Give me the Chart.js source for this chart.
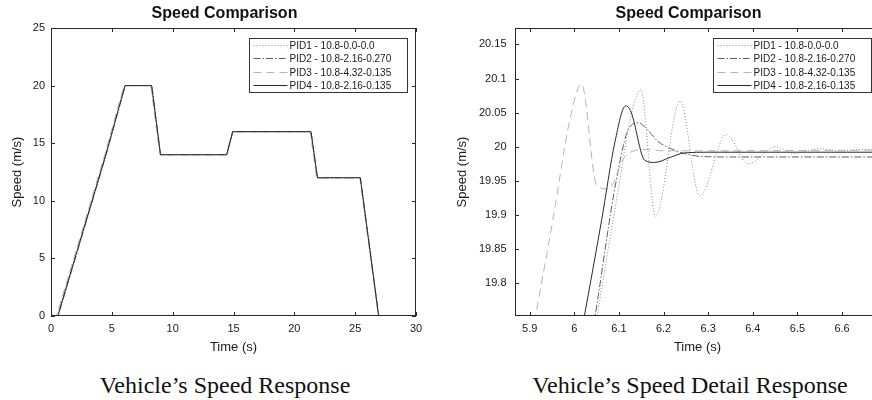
<!DOCTYPE html>
<html>
<head>
<meta charset="utf-8">
<script src="https://cdn.jsdelivr.net/npm/chart.js@4"></script>
<style>
  html, body { margin: 0; padding: 0; background: #fff; overflow: hidden; }
  body { width: 872px; height: 400px; position: relative; }
  canvas { position: absolute; top: 0; }
  #speed { left: 0; }
  #detail { left: 436px; }
  .caption {
    position: absolute; top: 373px; width: 400px; text-align: center;
    font-family: 'Liberation Serif', serif; font-size: 24px; line-height: 24px; color: #111;
  }
</style>
</head>
<body>
<canvas id="speed" width="436" height="360"></canvas>
<canvas id="detail" width="444" height="360"></canvas>
<div class="caption" style="left:25px">Vehicle’s Speed Response</div>
<div class="caption" style="left:490px">Vehicle’s Speed Detail Response</div>

<script>
// legend labels
const seriesNames = ['PID1 - 10.8-0.0-0.0', 'PID2 - 10.8-2.16-0.270', 'PID3 - 10.8-4.32-0.135', 'PID4 - 10.8-2.16-0.135'];

// whole run (left plot)
const runTime1 = [0, 0.6, 4.55, 6.12, 8.3, 9.02, 14.47, 14.96, 21.38, 21.9, 25.45, 26.95, 29];
const runSpeed1 = [0, 0, 14, 20, 20, 14, 14, 16, 16, 12, 12, 0, 0];
const runTime2 = [0, 0.58, 4.53, 6.1, 8.28, 9.0, 14.45, 14.95, 21.37, 21.9, 25.43, 26.94, 29];
const runSpeed2 = [0, 0, 14, 20, 20, 14, 14, 16, 16, 12, 12, 0, 0];
const runTime3 = [0, 0.45, 4.42, 6.0, 8.2, 8.95, 14.4, 14.9, 21.3, 21.83, 25.38, 26.9, 29];
const runSpeed3 = [0, 0, 14, 20, 20, 14, 14, 16, 16, 12, 12, 0, 0];
const runTime4 = [0, 0.55, 4.5, 6.08, 8.27, 9.0, 14.44, 14.93, 21.37, 21.9, 25.42, 26.93, 29];
const runSpeed4 = [0, 0, 14, 20, 20, 14, 14, 16, 16, 12, 12, 0, 0];

// detail around 6 s (right plot)
const detTime1 = [6.03, 6.102, 6.125, 6.149, 6.182, 6.237, 6.281, 6.341, 6.389, 6.452, 6.49, 6.549, 6.6, 6.65, 6.7];
const detSpeed1 = [19.67, 19.951, 20.04, 20.084, 19.898, 20.067, 19.928, 20.018, 19.975, 20.0, 19.99, 19.997, 19.994, 19.996, 19.995];
const detTime2 = [6.02, 6.046, 6.094, 6.124, 6.144, 6.165, 6.187, 6.217, 6.247, 6.28, 6.35, 6.7];
const detSpeed2 = [19.65, 19.75, 19.951, 20.029, 20.035, 20.024, 20.008, 19.997, 19.99, 19.986, 19.985, 19.985];
const detTime3 = [5.88, 5.913, 5.953, 5.99, 6.016, 6.05, 6.076, 6.113, 6.158, 6.2, 6.7];
const detSpeed3 = [19.63, 19.752, 19.897, 20.04, 20.092, 19.944, 19.938, 19.985, 19.996, 19.994, 19.995];
const detTime4 = [6.0, 6.022, 6.061, 6.091, 6.115, 6.127, 6.158, 6.18, 6.217, 6.247, 6.3, 6.7];
const detSpeed4 = [19.67, 19.75, 19.892, 20.007, 20.06, 20.051, 19.98, 19.977, 19.985, 19.991, 19.992, 19.992];

const lineColors = ['#8c8c8c', '#606060', '#b5b5b5', '#2a2a2a'];
const lineDashes = [[1, 2], [7, 2, 1.5, 2], [8, 5], []];

Chart.defaults.font.family = "'Liberation Sans', Arial, sans-serif";
Chart.defaults.color = '#1a1a1a';

function pts(t, v) {
  return t.map((x, i) => ({ x: x, y: v[i] }));
}

function makeSets(times, speeds, smooth) {
  return times.map((t, i) => ({
    label: seriesNames[i],
    data: pts(t, speeds[i]),
    borderColor: lineColors[i],
    borderDash: lineDashes[i],
    borderWidth: 1,
    pointRadius: 0,
    fill: false,
    cubicInterpolationMode: smooth ? 'monotone' : 'default',
    tension: 0,
    order: 3 - i
  }));
}

function fmt(v) {
  return String(Number(v.toFixed(2)));
}

// frame, inward ticks, title and boxed legend
const framePlugin = {
  id: 'frame',
  afterDraw(chart, args, opts) {
    const { ctx, chartArea: a, scales } = chart;
    const x = scales.x, y = scales.y;
    ctx.save();
    ctx.strokeStyle = '#2a2a2a';
    ctx.lineWidth = 1;
    ctx.setLineDash([]);
    ctx.strokeRect(Math.round(a.left) + 0.5, Math.round(a.top) + 0.5,
      Math.round(a.right - a.left) - 1, Math.round(a.bottom - a.top) - 1);
    ctx.beginPath();
    x.ticks.forEach(t => {
      const px = Math.round(x.getPixelForValue(t.value)) + 0.5;
      ctx.moveTo(px, a.bottom); ctx.lineTo(px, a.bottom - 4);
      ctx.moveTo(px, a.top); ctx.lineTo(px, a.top + 4);
    });
    y.ticks.forEach(t => {
      const py = Math.round(y.getPixelForValue(t.value)) + 0.5;
      ctx.moveTo(a.left, py); ctx.lineTo(a.left + 4, py);
      ctx.moveTo(a.right, py); ctx.lineTo(a.right - 4, py);
    });
    ctx.stroke();

    // title
    ctx.fillStyle = '#111';
    ctx.font = "bold 16px 'Liberation Sans', Arial, sans-serif";
    ctx.textAlign = 'center';
    ctx.textBaseline = 'alphabetic';
    ctx.fillText(opts.title, (a.left + a.right) / 2 - 9, 18);

    // legend
    const w = 158, h = 54;
    const L = Math.round(a.right - 9 - w) + 0.5, T = Math.round(a.top + 10) + 0.5;
    ctx.fillStyle = '#fff';
    ctx.fillRect(L, T, w, h);
    ctx.strokeStyle = '#333';
    ctx.strokeRect(L, T, w, h);
    ctx.font = "10px 'Liberation Sans', Arial, sans-serif";
    ctx.textAlign = 'left';
    ctx.textBaseline = 'middle';
    chart.data.datasets.forEach((ds, i) => {
      const ry = Math.round(T + 6.5 + i * 13.4) + 0.5;
      ctx.strokeStyle = ds.borderColor;
      ctx.setLineDash(ds.borderDash);
      ctx.beginPath();
      ctx.moveTo(L + 4, ry); ctx.lineTo(L + 38, ry);
      ctx.stroke();
      ctx.fillStyle = '#1a1a1a';
      ctx.fillText(ds.label, L + 40, ry + 0.5);
    });
    ctx.restore();
  }
};

function makeChart(id, datasets, xs, ys, yWidth, yPad, yTitlePad, padRight) {
  return new Chart(document.getElementById(id), {
    type: 'line',
    data: { datasets: datasets },
    plugins: [framePlugin],
    options: {
      responsive: false,
      animation: false,
      layout: { padding: { top: 28, right: padRight, bottom: 0, left: 0 } },
      plugins: {
        legend: { display: false },
        title: { display: false },
        tooltip: { enabled: false },
        frame: { title: 'Speed Comparison' }
      },
      scales: {
        x: {
          type: 'linear',
          min: xs.min, max: xs.max,
          grid: { display: false, drawTicks: false },
          border: { display: false },
          ticks: { stepSize: xs.step, includeBounds: false, padding: 6, maxRotation: 0,
            font: { size: 11 }, callback: fmt },
          title: { display: true, text: 'Time (s)', font: { size: 13 }, padding: { top: 0, bottom: 5 } },
          afterFit: s => { s.height = 44; }
        },
        y: {
          type: 'linear',
          min: ys.min, max: ys.max,
          grid: { display: false, drawTicks: false },
          border: { display: false },
          ticks: { stepSize: ys.step, includeBounds: false, padding: yPad,
            font: { size: 11 }, callback: fmt },
          title: { display: true, text: 'Speed (m/s)', font: { size: 13 }, padding: { top: yTitlePad, bottom: 0 } },
          afterFit: s => { s.width = yWidth; }
        }
      }
    }
  });
}

makeChart('speed',
  makeSets([runTime1, runTime2, runTime3, runTime4], [runSpeed1, runSpeed2, runSpeed3, runSpeed4], false),
  { min: 0, max: 30, step: 5 }, { min: 0, max: 25, step: 5 }, 51, 6, 10, 20);

makeChart('detail',
  makeSets([detTime1, detTime2, detTime3, detTime4], [detSpeed1, detSpeed2, detSpeed3, detSpeed4], true),
  { min: 5.867, max: 6.685, step: 0.1 }, { min: 19.752, max: 20.174, step: 0.05 }, 79, 8.5, 19, 0);
</script>
</body>
</html>
